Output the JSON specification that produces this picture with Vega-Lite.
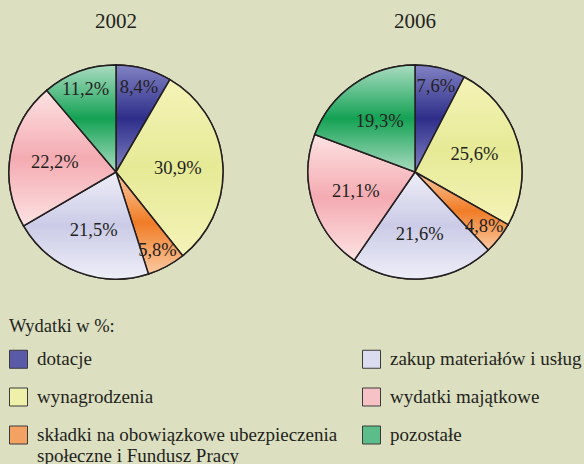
{
  "$schema": "https://vega.github.io/schema/vega-lite/v6.json",
  "background": "#dcdfc0",
  "padding": {"left": 6, "top": 11, "right": 20, "bottom": 20},
  "config": {
    "view": {"stroke": null},
    "locale": {"number": {"decimal": ",", "thousands": " ", "grouping": [3], "currency": ["", " zł"]}}
  },
  "data": {
    "values": [
      {"year": "2002", "ord": 1, "cat": "dotacje", "share": 0.084},
      {"year": "2002", "ord": 2, "cat": "wynagrodzenia", "share": 0.309},
      {"year": "2002", "ord": 3, "cat": "składki na obowiązkowe ubezpieczenia społeczne i Fundusz Pracy", "share": 0.058},
      {"year": "2002", "ord": 4, "cat": "zakup materiałów i usług", "share": 0.215},
      {"year": "2002", "ord": 5, "cat": "wydatki majątkowe", "share": 0.222},
      {"year": "2002", "ord": 6, "cat": "pozostałe", "share": 0.112},
      {"year": "2006", "ord": 1, "cat": "dotacje", "share": 0.076},
      {"year": "2006", "ord": 2, "cat": "wynagrodzenia", "share": 0.256},
      {"year": "2006", "ord": 3, "cat": "składki na obowiązkowe ubezpieczenia społeczne i Fundusz Pracy", "share": 0.048},
      {"year": "2006", "ord": 4, "cat": "zakup materiałów i usług", "share": 0.216},
      {"year": "2006", "ord": 5, "cat": "wydatki majątkowe", "share": 0.211},
      {"year": "2006", "ord": 6, "cat": "pozostałe", "share": 0.193}
    ]
  },
  "facet": {
    "column": {
      "field": "year",
      "type": "nominal",
      "title": null,
      "header": {
        "labelFont": "Liberation Serif",
        "labelFontSize": 21,
        "labelColor": "#231f20",
        "labelPadding": 30
      }
    }
  },
  "spacing": 79,
  "spec": {
    "width": 214,
    "height": 214,
    "layer": [
      {
        "mark": {"type": "arc", "outerRadius": 107, "stroke": "#231f20", "strokeWidth": 1.5},
        "encoding": {
          "theta": {"field": "share", "type": "quantitative", "stack": true},
          "order": {"field": "ord", "type": "quantitative"},
          "color": {
            "field": "cat",
            "type": "nominal",
            "scale": {
              "domain": [
                "dotacje",
                "wynagrodzenia",
                "składki na obowiązkowe ubezpieczenia społeczne i Fundusz Pracy",
                "zakup materiałów i usług",
                "wydatki majątkowe",
                "pozostałe"
              ],
              "range": ["#5a5aa8", "#eff0aa", "#f4a264", "#dcdcf0", "#f7c2c6", "#5cbd8a"]
            },
            "legend": {
              "orient": "none",
              "legendX": 0,
              "legendY": 252,
              "columns": 2,
              "columnPadding": 22,
              "rowPadding": 15,
              "padding": 0,
              "title": "\u00a0\u00a0Wydatki w %:",
              "titleFont": "Liberation Serif",
              "titleFontSize": 18.5,
              "titleFontWeight": "normal",
              "titleColor": "#231f20",
              "titlePadding": 14,
              "labelFont": "Liberation Serif",
              "labelFontSize": 19,
              "labelColor": "#231f20",
              "labelOffset": 9,
              "labelLimit": 400,
              "symbolType": "square",
              "symbolSize": 324,
              "symbolStrokeColor": "#3a3a3a",
              "symbolStrokeWidth": 1,
              "symbolOpacity": 1,
              "labelExpr": "datum.label == 'składki na obowiązkowe ubezpieczenia społeczne i Fundusz Pracy' ? ['składki na obowiązkowe ubezpieczenia', 'społeczne i Fundusz Pracy'] : datum.label",
              "encoding": {
                "labels": {"update": {"lineHeight": {"value": 15}}}
              }
            }
          }
        }
      },
      {
        "transform": [
          {"stack": "share", "groupby": ["year"], "sort": [{"field": "ord"}], "as": ["t0", "t1"]},
          {"filter": "datum.cat == 'dotacje'"}
        ],
        "mark": {"type": "arc", "outerRadius": 107, "stroke": "#231f20", "strokeWidth": 1.5,
          "fill": {"gradient": "linear", "x1": 0, "y1": 0, "x2": 0, "y2": 1, "stops": [{"offset": 0, "color": "#8282c4"}, {"offset": 0.5, "color": "#2e2e8a"}, {"offset": 1, "color": "#8282c4"}]}},
        "encoding": {"theta": {"field": "t0", "type": "quantitative"}, "theta2": {"field": "t1"}}
      },
      {
        "transform": [
          {"stack": "share", "groupby": ["year"], "sort": [{"field": "ord"}], "as": ["t0", "t1"]},
          {"filter": "datum.cat == 'wynagrodzenia'"}
        ],
        "mark": {"type": "arc", "outerRadius": 107, "stroke": "#231f20", "strokeWidth": 1.5,
          "fill": {"gradient": "linear", "x1": 0, "y1": 0, "x2": 0, "y2": 1, "stops": [{"offset": 0, "color": "#f5f3b8"}, {"offset": 0.5, "color": "#e6ea96"}, {"offset": 1, "color": "#f5f3b8"}]}},
        "encoding": {"theta": {"field": "t0", "type": "quantitative"}, "theta2": {"field": "t1"}}
      },
      {
        "transform": [
          {"stack": "share", "groupby": ["year"], "sort": [{"field": "ord"}], "as": ["t0", "t1"]},
          {"filter": "datum.cat == 'składki na obowiązkowe ubezpieczenia społeczne i Fundusz Pracy'"}
        ],
        "mark": {"type": "arc", "outerRadius": 107, "stroke": "#231f20", "strokeWidth": 1.5,
          "fill": {"gradient": "linear", "x1": 0, "y1": 0, "x2": 0, "y2": 1, "stops": [{"offset": 0, "color": "#fbcaa2"}, {"offset": 0.5, "color": "#f07c26"}, {"offset": 1, "color": "#fbcaa2"}]}},
        "encoding": {"theta": {"field": "t0", "type": "quantitative"}, "theta2": {"field": "t1"}}
      },
      {
        "transform": [
          {"stack": "share", "groupby": ["year"], "sort": [{"field": "ord"}], "as": ["t0", "t1"]},
          {"filter": "datum.cat == 'zakup materiałów i usług'"}
        ],
        "mark": {"type": "arc", "outerRadius": 107, "stroke": "#231f20", "strokeWidth": 1.5,
          "fill": {"gradient": "linear", "x1": 0, "y1": 0, "x2": 0, "y2": 1, "stops": [{"offset": 0, "color": "#eeeef8"}, {"offset": 0.5, "color": "#cbcbe7"}, {"offset": 1, "color": "#eeeef8"}]}},
        "encoding": {"theta": {"field": "t0", "type": "quantitative"}, "theta2": {"field": "t1"}}
      },
      {
        "transform": [
          {"stack": "share", "groupby": ["year"], "sort": [{"field": "ord"}], "as": ["t0", "t1"]},
          {"filter": "datum.cat == 'wydatki majątkowe'"}
        ],
        "mark": {"type": "arc", "outerRadius": 107, "stroke": "#231f20", "strokeWidth": 1.5,
          "fill": {"gradient": "linear", "x1": 0, "y1": 0, "x2": 0, "y2": 1, "stops": [{"offset": 0, "color": "#fde2e2"}, {"offset": 0.5, "color": "#f4abb2"}, {"offset": 1, "color": "#fde2e2"}]}},
        "encoding": {"theta": {"field": "t0", "type": "quantitative"}, "theta2": {"field": "t1"}}
      },
      {
        "transform": [
          {"stack": "share", "groupby": ["year"], "sort": [{"field": "ord"}], "as": ["t0", "t1"]},
          {"filter": "datum.cat == 'pozostałe'"}
        ],
        "mark": {"type": "arc", "outerRadius": 107, "stroke": "#231f20", "strokeWidth": 1.5,
          "fill": {"gradient": "linear", "x1": 0, "y1": 0, "x2": 0, "y2": 1, "stops": [{"offset": 0, "color": "#aadcc1"}, {"offset": 0.5, "color": "#14a254"}, {"offset": 1, "color": "#aadcc1"}]}},
        "encoding": {"theta": {"field": "t0", "type": "quantitative"}, "theta2": {"field": "t1"}}
      },
      {
        "mark": {
          "type": "text",
          "font": "Liberation Serif",
          "fontSize": 18.5,
          "color": "#231f20",
          "radius": {"expr": "datum.share < 0.12 ? 88 : 62"}
        },
        "encoding": {
          "theta": {"field": "share", "type": "quantitative", "stack": true},
          "order": {"field": "ord", "type": "quantitative"},
          "text": {"field": "share", "type": "quantitative", "format": ".1%"}
        }
      }
    ]
  }
}
